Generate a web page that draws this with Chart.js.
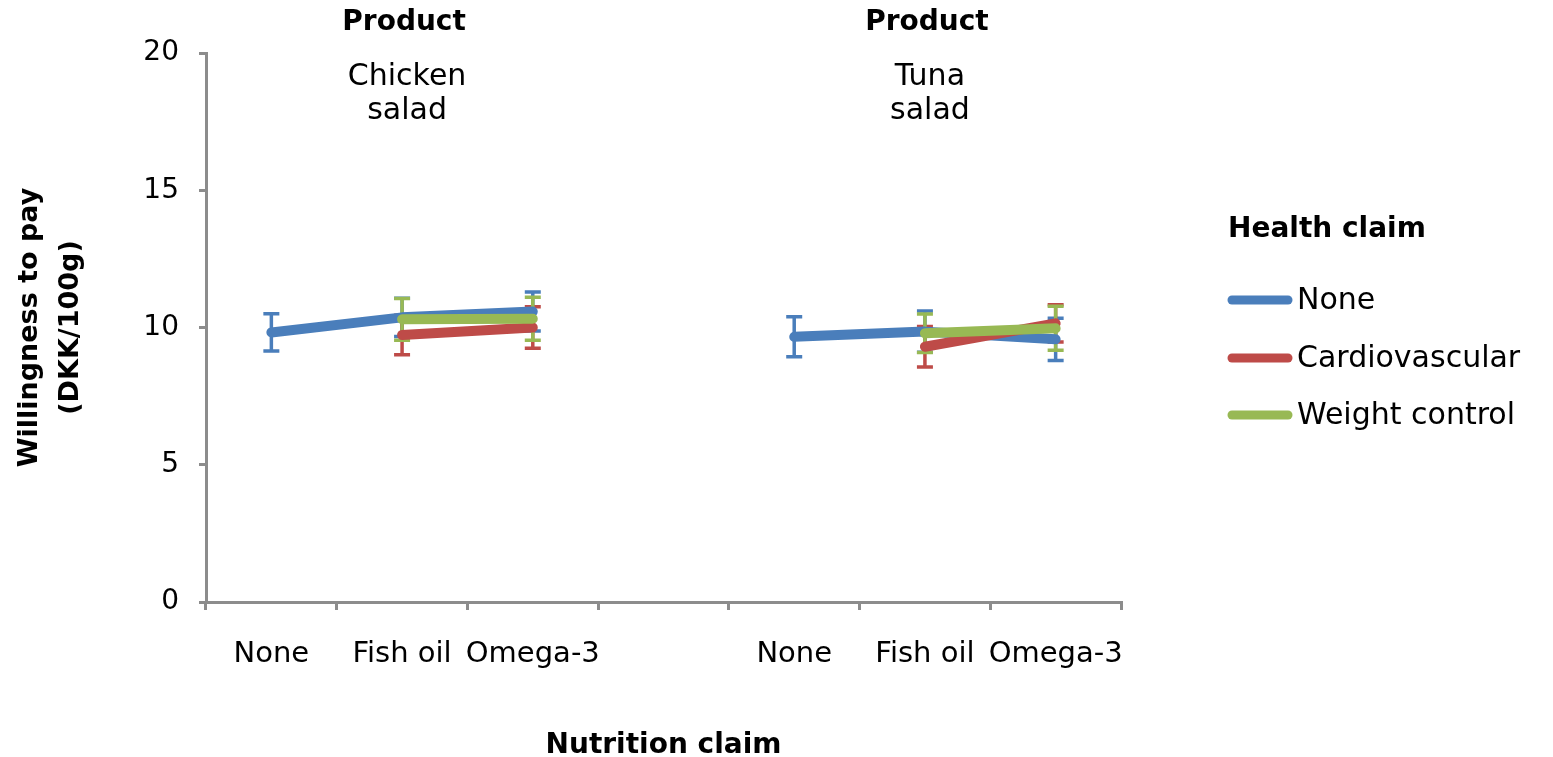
<!DOCTYPE html>
<html>
<head>
<meta charset="utf-8">
<script src="https://cdn.jsdelivr.net/npm/chart.js@4/dist/chart.umd.min.js"></script>
<style>
  html, body { margin: 0; padding: 0; background: #ffffff; }
  #wrap { width: 1553px; height: 757px; position: relative; }
</style>
</head>
<body>
<div id="wrap"><canvas id="c" width="1553" height="757"></canvas></div>
<script>
// ---- data ----
const categories = ['None', 'Fish oil', 'Omega-3', '', 'None', 'Fish oil', 'Omega-3'];
const products = ['Chicken\nsalad', 'Tuna\nsalad'];
const productCategoryIndex = [1, 5];
const seriesNames = ['None', 'Cardiovascular', 'Weight control'];

const noneValues   = [9.82, 10.37, 10.58, null, 9.66, 9.85, 9.57];
const cardioValues = [null, 9.73, 10.00, null, null, 9.30, 10.15];
const weightValues = [null, 10.30, 10.32, null, null, 9.79, 9.97];

const noneErr   = [0.68, 0.70, 0.71, null, 0.73, 0.75, 0.77];
const cardioErr = [null, 0.72, 0.76, null, null, 0.74, 0.68];
const weightErr = [null, 0.76, 0.78, null, null, 0.70, 0.80];

const yTicks = [0, 5, 10, 15, 20];

// ---- styles ----
const colors = ['#4A7EBB', '#BE4B48', '#98B954'];
const axisColor = '#8C8C8C';
const FONT = "'DejaVu Sans', sans-serif";

const errorSets = [noneErr, cardioErr, weightErr];

const errorBarPlugin = {
  id: 'errorBars',
  beforeDatasetsDraw(chart) {
    const ctx = chart.ctx;
    const xs = chart.scales.x, ys = chart.scales.y;
    chart.data.datasets.forEach((ds, i) => {
      const err = errorSets[i];
      ctx.save();
      ctx.strokeStyle = ds.borderColor;
      ctx.lineWidth = 3.5;
      ds.data.forEach((v, j) => {
        if (v == null || err[j] == null) return;
        const x = xs.getPixelForValue(j);
        const yt = ys.getPixelForValue(v + err[j]);
        const yb = ys.getPixelForValue(v - err[j]);
        ctx.beginPath();
        ctx.moveTo(x, yt); ctx.lineTo(x, yb);
        ctx.moveTo(x - 8, yt); ctx.lineTo(x + 8, yt);
        ctx.moveTo(x - 8, yb); ctx.lineTo(x + 8, yb);
        ctx.stroke();
      });
      ctx.restore();
    });
  }
};

const annotPlugin = {
  id: 'annot',
  afterDraw(chart) {
    const ctx = chart.ctx;
    const xs = chart.scales.x;
    ctx.save();
    ctx.fillStyle = '#000';
    ctx.textAlign = 'center';
    ctx.textBaseline = 'middle';
    products.forEach((p, k) => {
      const x = xs.getPixelForValue(productCategoryIndex[k]);
      ctx.font = "bold 28px " + FONT;
      ctx.fillText('Product', x + 2, 23);
      ctx.font = "30px " + FONT;
      const lines = p.split('\n');
      lines.forEach((ln, li) => ctx.fillText(ln, x + 5, 77 + li * 34));
    });
    // legend
    const lx = 1228;
    ctx.textAlign = 'left';
    ctx.font = "bold 28px " + FONT;
    ctx.fillText('Health claim', lx, 230);
    ctx.font = "30px " + FONT;
    const rowY = [300, 358, 415];
    seriesNames.forEach((n, i) => {
      ctx.strokeStyle = colors[i];
      ctx.lineWidth = 9;
      ctx.lineCap = 'round';
      ctx.beginPath();
      ctx.moveTo(lx + 4, rowY[i]);
      ctx.lineTo(lx + 60, rowY[i]);
      ctx.stroke();
      ctx.fillText(n, lx + 69, rowY[i] + 1);
    });
    ctx.restore();
  }
};

const datasetValues = [noneValues, cardioValues, weightValues];
const datasets = seriesNames.map((n, i) => ({
  label: n,
  data: datasetValues[i],
  borderColor: colors[i],
  backgroundColor: colors[i],
  borderWidth: 10,
  borderCapStyle: 'round',
  borderJoinStyle: 'round',
  pointRadius: 0,
  pointHoverRadius: 0,
  spanGaps: false,
  tension: 0,
  order: 2 - i
}));

new Chart(document.getElementById('c'), {
  type: 'line',
  data: { labels: categories, datasets },
  plugins: [errorBarPlugin, annotPlugin],
  options: {
    responsive: false,
    animation: false,
    devicePixelRatio: 1,
    layout: { padding: { left: 0, right: 432, top: 53, bottom: 0 } },
    plugins: { legend: { display: false }, tooltip: { enabled: false } },
    scales: {
      x: {
        type: 'category',
        offset: true,
        afterFit(s) { s.height = 155; },
        grid: { offset: true, drawOnChartArea: false, drawTicks: true, tickLength: 8, color: axisColor, lineWidth: 3 },
        border: { color: axisColor, width: 3 },
        ticks: { color: '#000', font: { family: FONT, size: 29 }, padding: 27, maxRotation: 0, autoSkip: false },
        title: { display: true, text: 'Nutrition claim', color: '#000', font: { family: FONT, size: 28, weight: 'bold', lineHeight: 0.8 }, padding: { top: 0, bottom: 0 } }
      },
      y: {
        min: 0, max: 20,
        afterFit(s) { s.width = 206; },
        afterBuildTicks(s) { s.ticks = yTicks.map(v => ({ value: v })); },
        grid: { drawOnChartArea: false, drawTicks: true, tickLength: 7, color: axisColor, lineWidth: 3 },
        border: { color: axisColor, width: 3 },
        ticks: { color: '#000', font: { family: FONT, size: 28 }, padding: 20 },
        title: { display: true, text: ['Willingness to pay', '(DKK/100g)'], color: '#000', font: { family: FONT, size: 27, weight: 'bold', lineHeight: 1.5 }, padding: { top: 10, bottom: 0 } }
      }
    }
  }
});
</script>
</body>
</html>
